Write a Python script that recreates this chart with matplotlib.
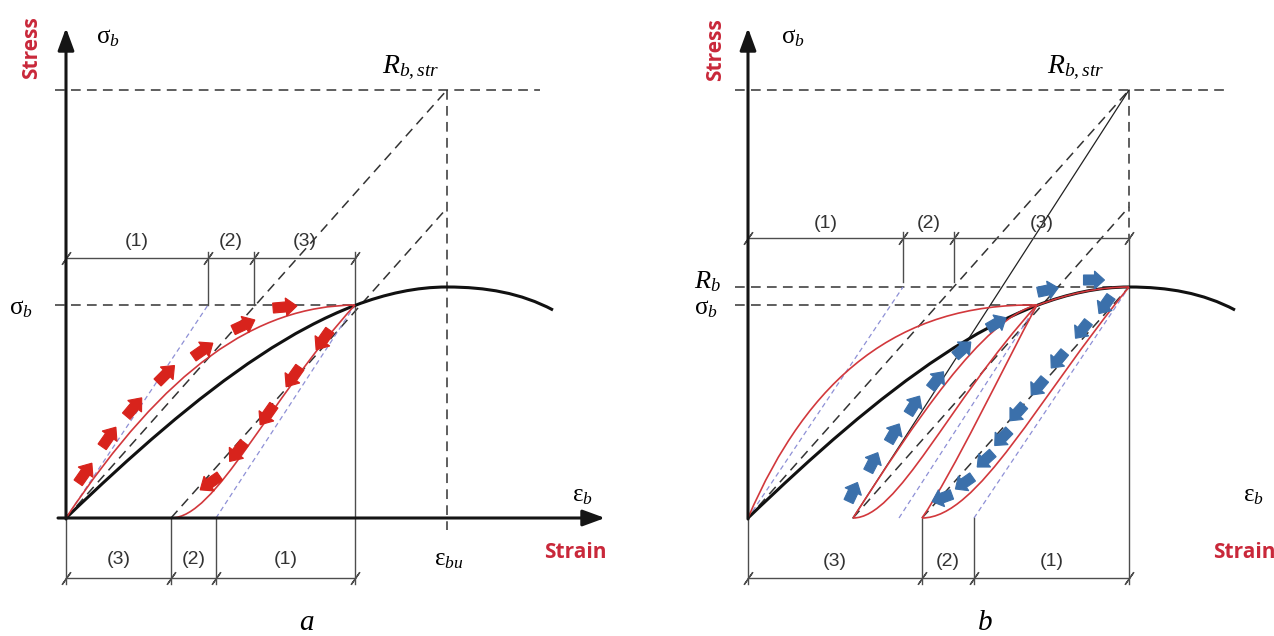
import matplotlib
matplotlib.use('Agg')
import matplotlib.pyplot as plt
from matplotlib.path import Path
from matplotlib.patches import PathPatch, FancyArrow
import numpy as np

plt.rcParams['mathtext.fontset'] = 'custom'
plt.rcParams['mathtext.rm'] = 'Liberation Serif'
plt.rcParams['mathtext.it'] = 'Liberation Serif:italic'
plt.rcParams['mathtext.bf'] = 'Liberation Serif:bold'
plt.rcParams['lines.scale_dashes'] = False

# ---------------- data (strain / stress in drawing units) ----------------
R_str = 428          # R_b,str stress level
R_b = 231            # peak stress
sig_b = 213          # sigma_b level
eps_peak = 381       # strain at peak (eps_bu)
eps_sb = 289         # strain at sigma_b point

# black stress-strain curve (cubic Bezier control points)
curve_eps = [0, 130, 260, 381, 420, 455, 487]
curve_sig = [0, 125, 231, 231, 231, 225, 208]

# panel a
a_top_dims = [0, 142, 188, 289]
a_top_labels = ['(1)', '(2)', '(3)']
a_bot_dims = [0, 105, 150, 289]
a_bot_labels = ['(3)', '(2)', '(1)']
a_dash_start = [0, 105]                 # black dashed lines (slope to R_str)
a_dash_end_sig = [428, 310]
a_blue_start = [0, 150]
a_blue_end_eps = [142, 289]
a_blue_end_sig = [213, 213]
a_load_eps = [0, 100, 190, 289]
a_load_sig = [0, 150, 212, 213]
a_unload_eps = [105, 150, 200, 289]
a_unload_sig = [0, 0, 115, 213]
a_arrow_up_eps = [19, 43, 68, 100, 137, 178, 219]
a_arrow_up_sig = [45, 81, 111, 144, 168, 193, 211]
a_arrow_up_ang = [55, 55, 50, 45, 35, 25, 5]
a_arrow_dn_eps = [257, 227, 201, 171, 144]
a_arrow_dn_sig = [178, 141, 103, 66, 35]
a_arrow_dn_ang = [235, 235, 235, 232, 215]

# panel b
b_top_dims = [0, 155, 206, 381]
b_top_labels = ['(1)', '(2)', '(3)']
b_bot_dims = [0, 174, 226, 381]
b_bot_labels = ['(3)', '(2)', '(1)']
b_dash_start = [0, 105, 174]
b_dash_end_sig = [428, 311, 231]
b_thin_start = 105
b_blue_start = [0, 151, 226]
b_blue_end_eps = [155, 289, 381]
b_blue_end_sig = [231, 213, 231]
b_red_eps = [[0, 60, 150, 289],
             [105, 165, 235, 289],
             [105, 150, 200, 289],
             [174, 205, 255, 289],
             [174, 230, 290, 381],
             [289, 320, 351, 381]]
b_red_sig = [[0, 140, 215, 213],
             [0, 93, 200, 213],
             [0, 0, 115, 213],
             [0, 45, 150, 213],
             [0, 0, 120, 231],
             [212.5, 224.4, 231, 231]]
b_arrow_up_eps = [105, 125, 146, 166, 189, 215, 249, 300, 346]
b_arrow_up_sig = [26, 56, 85, 113, 138, 169, 195, 228, 238]
b_arrow_up_ang = [65, 63, 60, 58, 52, 42, 30, 12, 0]
b_arrow_dn_eps = [357, 334, 310, 290, 269, 254, 237, 216, 194]
b_arrow_dn_sig = [213, 188, 158, 131, 105, 80, 58, 35, 20]
b_arrow_dn_ang = [235, 232, 230, 230, 228, 226, 222, 215, 200]

# ---------------- styles ----------------
RED_TXT = '#c9283a'
RED_ARR = '#d8231c'
RED_LINE = '#d2383c'
BLUE_ARR = '#3b70ab'
BLUE_DASH = '#8e90d6'
DASH = '#333333'
DIM = '#4d4d4d'
SERIF = 'Liberation Serif'

fig = plt.figure(figsize=(12.74, 6.36), dpi=100)
axa = fig.add_axes([0, 0, 637 / 1274, 1])
axb = fig.add_axes([637 / 1274, 0, 637 / 1274, 1])
axa.set_xlim(-66, 571); axa.set_ylim(-118, 518)
axb.set_xlim(-111, 526); axb.set_ylim(-118, 518)
for ax in (axa, axb):
    ax.set_axis_off()


def bezier(ax, xs, ys, **kw):
    verts = list(zip(xs, ys))
    codes = [Path.MOVETO] + [Path.CURVE4] * (len(verts) - 1)
    ax.add_patch(PathPatch(Path(verts, codes), fill=False, **kw))


def arrows(ax, xs, ys, angs, color, L, w, hw, hl):
    for x, y, a in zip(xs, ys, angs):
        r = np.deg2rad(a)
        dx, dy = L * np.cos(r), L * np.sin(r)
        ax.add_patch(FancyArrow(x - dx / 2, y - dy / 2, dx, dy, width=w,
                                head_width=hw, head_length=hl,
                                length_includes_head=True, facecolor=color,
                                edgecolor=color, lw=0.8, zorder=6))


def dims(ax, pos, level, labels, lab_off):
    ax.plot([pos[0], pos[-1]], [level, level], color=DIM, lw=1.0, zorder=2)
    ax.plot(pos, [level] * len(pos), ls='none', marker=(2, 2, -35),
            ms=11, mew=1.0, color=DIM, zorder=2)
    for i, lab in enumerate(labels):
        ax.text((pos[i] + pos[i + 1]) / 2, level + lab_off, lab,
                ha='center', va='center', fontsize=14,
                family='Liberation Sans', color='#333333')


def axes_arrows(ax, xtip):
    kw = dict(arrowstyle='-|>,head_length=0.9,head_width=0.33', lw=2.2,
              color='#151515', shrinkA=0, shrinkB=0, mutation_scale=15)
    ax.annotate('', xy=(xtip, 0), xytext=(-8, 0), arrowprops=kw, zorder=5)
    ax.annotate('', xy=(0, 490), xytext=(0, -1), arrowprops=kw, zorder=5)
    ax.plot([0, 0], [0, -66], color=DIM, lw=1.0)


def slope_line(ax, e0, s_end, **kw):
    ax.plot([e0, eps_peak], [0, s_end], **kw)


dash_kw = dict(color=DASH, lw=1.1, ls=(0, (7, 4.5)))
blue_kw = dict(color=BLUE_DASH, lw=0.9, ls=(0, (3.5, 2.5)))
red_kw = dict(edgecolor=RED_LINE, lw=1.2, zorder=4)

# ================= panel a =================
ax = axa
axes_arrows(ax, 539)
ax.plot([-11, 474], [R_str, R_str], **dash_kw)
ax.plot([-11, eps_sb], [sig_b, sig_b], **dash_kw)
ax.plot([eps_peak, eps_peak], [R_str, -12], **dash_kw)
for e0, s1 in zip(a_dash_start, a_dash_end_sig):
    slope_line(ax, e0, s1, **dash_kw)
for e0, e1, s1 in zip(a_blue_start, a_blue_end_eps, a_blue_end_sig):
    ax.plot([e0, e1], [0, s1], **blue_kw)
# dimension lines
dims(ax, a_top_dims, 260, a_top_labels, 16)
dims(ax, a_bot_dims, -60, a_bot_labels, 18)
for e in a_top_dims[1:3]:
    ax.plot([e, e], [266, sig_b], color=DIM, lw=1.0)
ax.plot([a_top_dims[-1]] * 2, [266, -66], color=DIM, lw=1.0)
for e in a_bot_dims[1:3]:
    ax.plot([e, e], [0, -66], color=DIM, lw=1.0)
# curves
bezier(ax, curve_eps, curve_sig, edgecolor='#111111', lw=2.2, zorder=3)
bezier(ax, a_load_eps, a_load_sig, **red_kw)
bezier(ax, a_unload_eps, a_unload_sig, **red_kw)
arrows(ax, a_arrow_up_eps, a_arrow_up_sig, a_arrow_up_ang, RED_ARR, 24, 10, 18, 11)
arrows(ax, a_arrow_dn_eps, a_arrow_dn_sig, a_arrow_dn_ang, RED_ARR, 24, 10, 18, 11)
# texts
ax.text(-34, 470, 'Stress', rotation=90, ha='center', va='center', fontsize=15,
        fontweight='bold', family='Open Sans', color=RED_TXT)
ax.text(42, 480, 'σ$_b$', ha='center', va='center', fontsize=18, family=SERIF)
ax.text(345, 450, '$R_{b,str}$', ha='center', va='center', fontsize=20, family=SERIF)
ax.text(-45, 209, 'σ$_b$', ha='center', va='center', fontsize=18, family=SERIF)
ax.text(516, 22, 'ε$_b$', ha='center', va='center', fontsize=18, family=SERIF)
ax.text(383, -42, 'ε$_{bu}$', ha='center', va='center', fontsize=18, family=SERIF)
ax.text(509, -35, 'Strain', ha='center', va='center', fontsize=15,
        fontweight='bold', family='Open Sans', color=RED_TXT)
ax.text(240, -112, 'a', ha='center', va='baseline', fontsize=21, family=SERIF,
        style='italic')

# ================= panel b =================
ax = axb
axes_arrows(ax, 532)
ax.plot([-13, 480], [R_str, R_str], **dash_kw)
ax.plot([-13, eps_peak], [R_b, R_b], **dash_kw)
ax.plot([-13, eps_sb], [sig_b, sig_b], **dash_kw)
ax.plot([eps_peak, eps_peak], [R_str, 280], **dash_kw)
for e0, s1 in zip(b_dash_start, b_dash_end_sig):
    slope_line(ax, e0, s1, **dash_kw)
ax.plot([b_thin_start, eps_peak], [0, R_str], color='#222222', lw=0.9)
for e0, e1, s1 in zip(b_blue_start, b_blue_end_eps, b_blue_end_sig):
    ax.plot([e0, e1], [0, s1], **blue_kw)
dims(ax, b_top_dims, 280, b_top_labels, 14)
dims(ax, b_bot_dims, -60, b_bot_labels, 17)
for e in b_top_dims[1:3]:
    ax.plot([e, e], [286, 236], color=DIM, lw=1.0)
ax.plot([b_top_dims[-1]] * 2, [280, -66], color=DIM, lw=1.0)
for e in b_bot_dims[1:3]:
    ax.plot([e, e], [0, -66], color=DIM, lw=1.0)
bezier(ax, curve_eps, curve_sig, edgecolor='#111111', lw=2.2, zorder=3)
for xs, ys in zip(b_red_eps, b_red_sig):
    bezier(ax, xs, ys, **red_kw)
arrows(ax, b_arrow_up_eps, b_arrow_up_sig, b_arrow_up_ang, BLUE_ARR, 21, 10, 18, 10)
arrows(ax, b_arrow_dn_eps, b_arrow_dn_sig, b_arrow_dn_ang, BLUE_ARR, 21, 10, 18, 10)
ax.text(-32, 468, 'Stress', rotation=90, ha='center', va='center', fontsize=15,
        fontweight='bold', family='Open Sans', color=RED_TXT)
ax.text(45, 480, 'σ$_b$', ha='center', va='center', fontsize=18, family=SERIF)
ax.text(328, 450, '$R_{b,str}$', ha='center', va='center', fontsize=20, family=SERIF)
ax.text(-41, 236, '$R_b$', ha='center', va='center', fontsize=19, family=SERIF)
ax.text(-42, 209, 'σ$_b$', ha='center', va='center', fontsize=18, family=SERIF)
ax.text(505, 22, 'ε$_b$', ha='center', va='center', fontsize=18, family=SERIF)
ax.text(465, -35, 'Strain', ha='left', va='center', fontsize=15,
        fontweight='bold', family='Open Sans', color=RED_TXT)
ax.text(237, -112, 'b', ha='center', va='baseline', fontsize=21, family=SERIF,
        style='italic')

fig.savefig('out.png', dpi=100, facecolor='white')
